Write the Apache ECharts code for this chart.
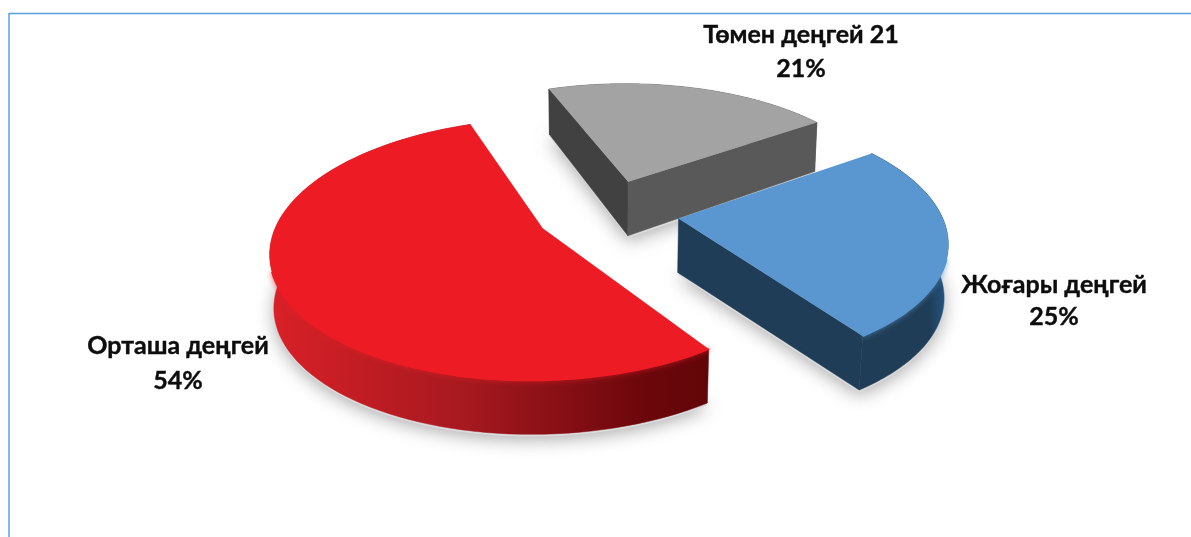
<!DOCTYPE html>
<html><head><meta charset="utf-8">
<style>html,body{margin:0;padding:0;background:#fff}#c{width:1191px;height:537px}</style>
<script src="https://cdn.jsdelivr.net/npm/echarts@6/dist/echarts.min.js"></script>
</head><body><div id="c"></div>
<script>
// Data, clockwise from the far-left edge of the grey slice
const categories = ['Төмен деңгей 21', 'Жоғары деңгей', 'Орташа деңгей'];
const values = [21, 25, 54];
const percentLabels = ['21%', '25%', '54%'];

// Colours per slice (null: that cut face is turned away from the viewer)
const topColors = ['#a3a3a3', '#5a97d1', '#ed1c24'];
const startWallColors = ['#414141', null, null];
const endWallColors = ['#595959', '#203d57', null];
const arcWallStops = [
  [[0, '#595959'], [1, '#595959']],
  [[0, '#203d57'], [0.93, '#203d57'], [0.98, '#23507a'], [1, '#2a6496']],
  [[0, '#d92027'], [0.45, '#a5191f'], [0.85, '#6c070b'], [1, '#620508']]
];

// Projection of the tilted, exploded disc
const view = { cx: 607.5, cy: 212.4, A: 262.25, B: 122.5, p: 0.1585, startDeg: -110.36, explode: 0.273, drop: 54, farSlope: 9.5, farFrom: -0.3, shrink: 0.012 };
// Label layout
const labelCenters = [[801, 52], [1054, 301], [178, 363]];
const labelLineHeights = [34, 32, 35];
const fontFamily = 'Lato, "Open Sans", "Noto Sans", sans-serif';

const total = values.reduce((a, b) => a + b, 0);
const rad = Math.PI / 180;
function projTop(u, v) { const w = 1 - view.p * v; return [view.cx + view.A * u / w, view.cy + view.B * v / w]; }
function projLow(u, v, k) {
  const z = k === undefined ? 1 : k;
  const w = 1 - view.p * v;
  const d = view.drop + (v < view.farFrom ? view.farSlope * (v - view.farFrom) : 0);
  return [view.cx + view.A * u / (w + view.shrink * z), view.cy + view.B * v / w + d * z];
}

function renderItem(params, api) {
  const i = params.dataIndex;
  let before = 0;
  for (let j = 0; j < i; j++) before += values[j];
  const a0 = view.startDeg * rad + before / total * 2 * Math.PI;
  const a1 = a0 + api.value(0) / total * 2 * Math.PI;
  const mid = (a0 + a1) / 2;
  const ou = view.explode * Math.cos(mid), ov = view.explode * Math.sin(mid);
  const n = 90, arc = [];
  for (let k = 0; k <= n; k++) arc.push(a0 + (a1 - a0) * k / n);
  const at = (f, an) => f(ou + Math.cos(an), ov + Math.sin(an));
  const apexT = projTop(ou, ov), apexL = projLow(ou, ov);
  const topPts = [apexT].concat(arc.map(a => at(projTop, a)));
  const lowPts = [apexL].concat(arc.map(a => at(projLow, a)));
  const shadowPts = [projLow(ou, ov, 1.04)].concat(arc.map(a => at((u, v) => projLow(u, v, 1.04), a)));
  const xs = topPts.concat(lowPts).map(q => q[0]);
  const x0 = Math.min.apply(null, xs), x1 = Math.max.apply(null, xs);
  const grad = new echarts.graphic.LinearGradient(x0, 0, x1, 0, arcWallStops[i].map(s => ({ offset: s[0], color: s[1] })), true);
  const arcWall = arc.map(a => at(projTop, a)).concat(arc.slice().reverse().map(a => at(projLow, a)));
  const rimPts = arc.filter(a => Math.sin(a) > 0.3).map(a => at(projTop, a));
  const children = [
    { type: 'polygon', shape: { points: shadowPts }, style: { fill: '#dcdcdc', shadowBlur: 18, shadowOffsetY: 3, shadowColor: 'rgba(140,140,140,0.75)' } },
    { type: 'polygon', shape: { points: arcWall }, style: { fill: grad, stroke: grad, lineWidth: 0.5 } }
  ];
  if (startWallColors[i]) {
    children.push({ type: 'polygon', shape: { points: [apexT, at(projTop, a0), at(projLow, a0), apexL] }, style: { fill: startWallColors[i], stroke: startWallColors[i], lineWidth: 0.5 } });
  }
  if (endWallColors[i]) {
    children.push({ type: 'polygon', shape: { points: [apexT, at(projTop, a1), at(projLow, a1), apexL] }, style: { fill: endWallColors[i], stroke: endWallColors[i], lineWidth: 0.5 } });
  }
  if (i > 0 && rimPts.length > 1) {
    children.push({ type: 'polyline', shape: { points: rimPts }, style: { fill: null, stroke: topColors[i], lineWidth: 2, shadowBlur: 5, shadowColor: topColors[i] } });
  }
  children.push({ type: 'polygon', shape: { points: topPts }, style: { fill: topColors[i] } });
  children.push({
    type: 'text',
    style: {
      x: labelCenters[i][0], y: labelCenters[i][1],
      text: categories[i] + '\n' + percentLabels[i],
      align: 'center', verticalAlign: 'middle',
      fontFamily: fontFamily, fontWeight: 'bold', fontSize: 25, lineHeight: labelLineHeights[i], fill: '#0d0d0d',
      stroke: '#0d0d0d', lineWidth: 0.4
    }
  });
  return { type: 'group', children: children };
}

const chart = echarts.init(document.getElementById('c'), null, { renderer: 'canvas' });
chart.setOption({
  backgroundColor: '#ffffff',
  animation: false,
  tooltip: { show: false },
  graphic: [
    { type: 'line', shape: { x1: 9, y1: 13.5, x2: 1191, y2: 13.5 }, style: { stroke: '#5b9fe3', lineWidth: 1.5 } },
    { type: 'line', shape: { x1: 9, y1: 13, x2: 9, y2: 537 }, style: { stroke: '#5b9fe3', lineWidth: 1.5 } }
  ],
  series: [{
    type: 'custom',
    coordinateSystem: 'none',
    silent: true,
    renderItem: renderItem,
    data: values.map((v, i) => ({ name: categories[i], value: [v] }))
  }]
});
</script></body></html>
